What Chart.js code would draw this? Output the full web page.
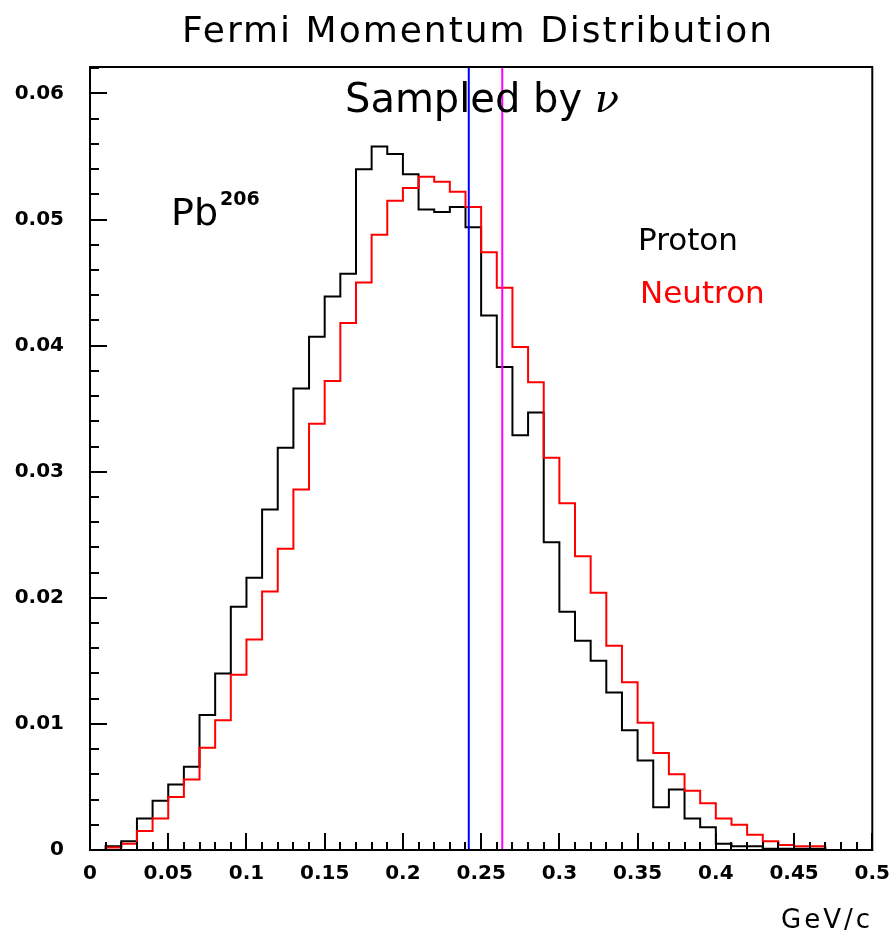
<!DOCTYPE html>
<html>
<head>
<meta charset="utf-8">
<title>Fermi Momentum Distribution</title>
<script src="https://cdn.jsdelivr.net/npm/chart.js@4.4.1/dist/chart.umd.min.js"></script>
<style>
  html, body { margin: 0; padding: 0; background: #fff; }
  canvas { display: block; }
</style>
</head>
<body>
<canvas id="fermiChart" width="894" height="937"></canvas>
<script>
// Histogram bin edges (GeV/c), 50 bins of 0.01
const binEdges = [0, 0.01, 0.02, 0.03, 0.04, 0.05, 0.06, 0.07, 0.08, 0.09,
    0.10, 0.11, 0.12, 0.13, 0.14, 0.15, 0.16, 0.17, 0.18, 0.19,
    0.20, 0.21, 0.22, 0.23, 0.24, 0.25, 0.26, 0.27, 0.28, 0.29,
    0.30, 0.31, 0.32, 0.33, 0.34, 0.35, 0.36, 0.37, 0.38, 0.39,
    0.40, 0.41, 0.42, 0.43, 0.44, 0.45, 0.46, 0.47, 0.48, 0.49, 0.50];

const protonCounts = [0, 0.0003, 0.0007, 0.0025, 0.0039, 0.0052, 0.0066, 0.0107, 0.0140, 0.0193,
    0.0216, 0.0270, 0.0319, 0.0366, 0.0407, 0.0439, 0.0457, 0.0540, 0.0558, 0.0552,
    0.0536, 0.0508, 0.0506, 0.0510, 0.0494, 0.0424, 0.0383, 0.0329, 0.0347, 0.0244,
    0.0189, 0.0166, 0.0150, 0.0125, 0.0095, 0.0071, 0.0034, 0.0048, 0.0025, 0.0018,
    0.0005, 0.0003, 0.0003, 0.0001, 0.0001, 0.0001, 0.0001, 0, 0, 0];

const neutronCounts = [0, 0.0002, 0.0005, 0.0015, 0.0025, 0.0042, 0.0056, 0.0081, 0.0103, 0.0139,
    0.0167, 0.0205, 0.0239, 0.0286, 0.0338, 0.0372, 0.0418, 0.0450, 0.0488, 0.0515,
    0.0525, 0.0534, 0.0530, 0.0522, 0.0510, 0.0474, 0.0446, 0.0399, 0.0371, 0.0311,
    0.0275, 0.0233, 0.0204, 0.0162, 0.0133, 0.0101, 0.0077, 0.0060, 0.0047, 0.0037,
    0.0025, 0.0020, 0.0012, 0.0007, 0.0004, 0.0003, 0.0003, 0, 0, 0];

// Mean momentum markers (proton, neutron)
const markerX = [0.2421, 0.2635];

const xRange = [0, 0.5];
const yRange = [0, 0.0621];
const xTickStep = 0.05;
const yTickStep = 0.01;

// Turn bin contents into step points (left edges + closing right edge)
function histPoints(counts) {
    const pts = counts.map((c, i) => ({ x: binEdges[i], y: c }));
    pts.push({ x: binEdges[binEdges.length - 1], y: counts[counts.length - 1] });
    return pts;
}

function markerLine(x) {
    return [{ x: x, y: yRange[0] }, { x: x, y: yRange[1] }];
}

// ROOT-style frame, inward ticks and text labels
const rootFrame = {
    id: 'rootFrame',
    afterDatasetsDraw(chart) {
        const { ctx, chartArea: a, scales: { x, y } } = chart;
        ctx.save();
        ctx.strokeStyle = '#000';
        ctx.lineWidth = 2;
        ctx.strokeRect(a.left, a.top, a.right - a.left, a.bottom - a.top);

        ctx.beginPath();
        // x ticks: major every 0.05, minor every 0.01
        for (let i = 0; i <= 50; i++) {
            const px = Math.round(x.getPixelForValue(i * 0.01));
            const len = i % 5 === 0 ? 17 : 8;
            ctx.moveTo(px, a.bottom);
            ctx.lineTo(px, a.bottom - len);
        }
        // y ticks: major every 0.01, minor every 0.002
        for (let i = 0; i * 0.002 <= yRange[1] + 1e-9; i++) {
            const py = Math.round(y.getPixelForValue(i * 0.002));
            const len = i % 5 === 0 ? 17 : 9;
            ctx.moveTo(a.left, py);
            ctx.lineTo(a.left + len, py);
        }
        ctx.stroke();
        ctx.restore();
    },
    afterDraw(chart) {
        const { ctx } = chart;
        ctx.save();
        ctx.fillStyle = '#000';
        ctx.textBaseline = 'alphabetic';
        ctx.textAlign = 'left';

        ctx.font = '36px "DejaVu Sans"';
        ctx.letterSpacing = '2px';
        ctx.fillText('Fermi Momentum Distribution', 182, 42);
        ctx.letterSpacing = '0px';

        ctx.font = '40px "DejaVu Sans"';
        const s = 'Sampled by ';
        ctx.fillText(s, 345, 112);
        const w = ctx.measureText(s).width;
        ctx.font = 'italic 40px "DejaVu Serif"';
        ctx.fillText('\u03bd', 345 + w, 112);

        ctx.font = '38px "DejaVu Sans"';
        ctx.fillText('Pb', 171, 225);
        const pw = ctx.measureText('Pb').width;
        ctx.font = 'bold 19px "DejaVu Sans"';
        ctx.fillText('206', 171 + pw + 2, 205);

        ctx.font = '31px "DejaVu Sans"';
        ctx.fillText('Proton', 638, 250);
        ctx.fillStyle = '#ff0000';
        ctx.fillText('Neutron', 640, 303);

        ctx.fillStyle = '#000';
        ctx.font = '26px "DejaVu Sans"';
        ctx.textAlign = 'right';
        ctx.letterSpacing = '3px';
        ctx.fillText('GeV/c', 873, 928);
        ctx.restore();
    }
};

const tickFont = { family: 'DejaVu Sans', size: 20, weight: 'bold' };

new Chart(document.getElementById('fermiChart'), {
    type: 'line',
    data: {
        datasets: [
            { data: markerLine(markerX[0]), borderColor: '#0000ff', borderWidth: 2 },
            { data: markerLine(markerX[1]), borderColor: '#ff00ff', borderWidth: 2 },
            { data: histPoints(neutronCounts), borderColor: '#ff0000', borderWidth: 2, stepped: true },
            { data: histPoints(protonCounts), borderColor: '#000000', borderWidth: 2, stepped: true }
        ]
    },
    options: {
        responsive: false,
        animation: false,
        layout: { padding: { left: 0, right: 21, top: 67, bottom: 0 } },
        elements: { point: { radius: 0 }, line: { tension: 0, fill: false } },
        plugins: { legend: { display: false }, title: { display: false }, tooltip: { enabled: false } },
        scales: {
            x: {
                type: 'linear',
                min: xRange[0],
                max: xRange[1],
                afterFit: s => { s.height = 87; },
                grid: { display: false },
                border: { display: false },
                ticks: {
                    stepSize: xTickStep,
                    includeBounds: false,
                    autoSkip: false,
                    maxRotation: 0,
                    padding: 4,
                    color: '#000',
                    font: tickFont,
                    callback: v => (Math.abs(v) < 1e-9 ? '0' : String(+v.toFixed(2)))
                }
            },
            y: {
                type: 'linear',
                min: yRange[0],
                max: yRange[1],
                afterFit: s => { s.width = 90; },
                grid: { display: false },
                border: { display: false },
                ticks: {
                    stepSize: yTickStep,
                    includeBounds: false,
                    autoSkip: false,
                    padding: 18,
                    color: '#000',
                    font: tickFont,
                    callback: v => (Math.abs(v) < 1e-9 ? '0' : v.toFixed(2))
                }
            }
        }
    },
    plugins: [rootFrame]
});
</script>
</body>
</html>
